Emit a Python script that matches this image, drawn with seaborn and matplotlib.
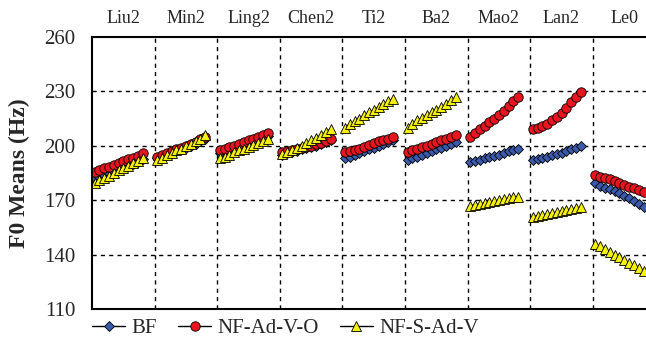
import numpy as np
import pandas as pd
import matplotlib
matplotlib.use("Agg")
import matplotlib.pyplot as plt
from matplotlib.lines import Line2D
import seaborn as sns

# Silabas (categorias) e valores de F0, 11 pontos por silaba
silabas = ["Liu2", "Min2", "Ling2", "Chen2", "Ti2", "Ba2", "Mao2", "Lan2", "Le0"]

bf = [
    [182, 183, 184, 185, 186, 187, 188, 189, 190, 191, 192.5],
    [193, 194, 195, 196, 197, 198, 199, 200, 201, 202.5, 204],
    [196, 197, 198, 199, 200, 201, 202, 203, 204, 205, 205.5],
    [195, 196, 196.5, 197, 198, 199, 199.5, 200, 201, 202, 203],
    [193, 194, 195, 196, 197, 198, 199, 200, 201, 202, 203],
    [192, 193, 194, 195, 196, 197, 198, 199, 200, 201, 202],
    [191, 191.5, 192, 193, 194, 194.5, 195, 196, 197, 197.5, 198.5],
    [192, 192.5, 193, 194, 195, 195.5, 196, 197, 198, 199, 200],
    [179.5, 178, 177, 176, 175, 174, 172.5, 171, 169.5, 168, 166.5],
]
nf_ad_v_o = [
    [185.5, 186.5, 187.5, 188.5, 189.5, 190.5, 191.5, 192.5, 193.5, 194.5, 196],
    [194, 195, 196, 197, 198, 199, 200, 201, 202, 203.5, 205],
    [197.5, 198.5, 199.5, 200, 201, 202, 203, 204, 205, 206, 207],
    [196.5, 197, 197.5, 198, 199, 199.5, 200, 201, 201.5, 202.5, 203.5],
    [196.5, 197, 197.5, 198.5, 199.5, 200.5, 201.5, 202.5, 203, 204, 205],
    [196.5, 197.5, 198.5, 199.5, 200, 201, 202, 203, 204, 205, 206],
    [205, 207, 209, 211, 213, 215, 217, 219, 222, 224.5, 227],
    [209, 210, 211, 212, 214, 216, 218, 221, 224, 227, 229.5],
    [184, 183, 182, 181.5, 180.5, 179.5, 178.5, 177.5, 176.5, 175.5, 174.5],
]
nf_s_ad_v = [
    [179.5, 181, 182.5, 183.5, 185, 186.5, 187.5, 189, 190.5, 191.5, 193],
    [192, 193.5, 195, 196, 197.5, 198.5, 200, 201, 202.5, 204, 206],
    [193, 194, 195, 196.5, 197.5, 198.5, 199.5, 200.5, 201.5, 202.5, 204],
    [195.5, 196.5, 197.5, 199, 200, 201.5, 203, 204.5, 206, 207.5, 209.5],
    [210, 212, 213.5, 215, 217, 218.5, 220, 221.5, 223, 224.5, 226],
    [210, 212, 214, 215.5, 217, 218.5, 220, 221.5, 223, 225, 227],
    [167, 167.5, 168, 168.5, 169, 169.5, 170, 170.5, 171, 171.5, 172],
    [161, 161.5, 162, 162.5, 163, 163.5, 164, 164.5, 165, 165.5, 166],
    [146, 144.5, 143, 141.5, 140, 138.5, 137, 135.5, 134, 132.5, 131],
]

series_nomes = ["BF", "NF-Ad-V-O", "NF-S-Ad-V"]
series_valores = [bf, nf_ad_v_o, nf_s_ad_v]
cores = {"BF": "#3a5bab", "NF-Ad-V-O": "#e8141e", "NF-S-Ad-V": "#f5f00a"}
marcadores = {"BF": "D", "NF-Ad-V-O": "o", "NF-S-Ad-V": "^"}
tamanhos = {"BF": 5.5, "NF-Ad-V-O": 6.8, "NF-S-Ad-V": 7.5}


def montar_dados():
    linhas = []
    for nome, valores in zip(series_nomes, series_valores):
        for k, seg in enumerate(valores):
            n = len(seg)
            for i, v in enumerate(seg):
                # posicao dentro da secao da silaba
                x = k + 0.04 + i * 0.77 / (n - 1)
                linhas.append({"serie": nome, "silaba": silabas[k], "seg": k, "x": x, "f0": v})
    return pd.DataFrame(linhas)


def main():
    df = montar_dados()

    sns.set_style("white")
    plt.rcParams["font.family"] = ["Liberation Serif", "DejaVu Serif"]

    fig = plt.figure(figsize=(6.46, 3.42), dpi=100)
    ax = fig.add_axes([92 / 646, 33 / 342, 1 - 92 / 646, 272 / 342])

    # grade tracejada
    for y in [140, 170, 200, 230]:
        ax.axhline(y, color="black", lw=1.0, ls=(0, (3, 3)), zorder=0)
    for k in range(1, len(silabas)):
        ax.axvline(k, color="black", lw=1.0, ls=(0, (3, 3)), zorder=0)

    for nome in series_nomes:
        sub = df[df["serie"] == nome]
        sns.lineplot(data=sub, x="x", y="f0", units="seg", estimator=None,
                     color="black", lw=0.8, marker=marcadores[nome],
                     markersize=tamanhos[nome], markerfacecolor=cores[nome],
                     markeredgecolor="black", markeredgewidth=0.6, ax=ax,
                     legend=False)

    ax.set_xlim(0, 554 / 62.6)
    ax.set_ylim(110, 260)
    ax.set_yticks([110, 140, 170, 200, 230, 260])
    ax.set_xticks([])
    ax.tick_params(axis="y", length=0, pad=12, labelsize=15)
    ax.set_xlabel("")
    ax.set_ylabel("F0 Means (Hz)", fontsize=17, fontweight="bold")
    ax.yaxis.set_label_coords(-0.112, 0.5)

    for lado in ["left", "bottom", "top"]:
        ax.spines[lado].set_color("black")
        ax.spines[lado].set_linewidth(1.5)
    ax.spines["right"].set_visible(False)

    for k, s in enumerate(silabas):
        ax.text(k + 0.5, 1.035, s, transform=ax.get_xaxis_transform(),
                ha="center", va="bottom", fontsize=13)

    handles = [Line2D([], [], color="black", lw=1, marker=marcadores[n],
                      markersize=tamanhos[n], markerfacecolor=cores[n],
                      markeredgecolor="black", markeredgewidth=0.6)
               for n in series_nomes]
    fig.legend(handles, series_nomes, loc="center left",
               bbox_to_anchor=(92 / 646, 14 / 342), ncol=3, frameon=False,
               fontsize=15, handlelength=1.6, handletextpad=0.3,
               columnspacing=1.0, borderpad=0, borderaxespad=0)

    fig.savefig("out.png", dpi=100)


if __name__ == "__main__":
    main()
